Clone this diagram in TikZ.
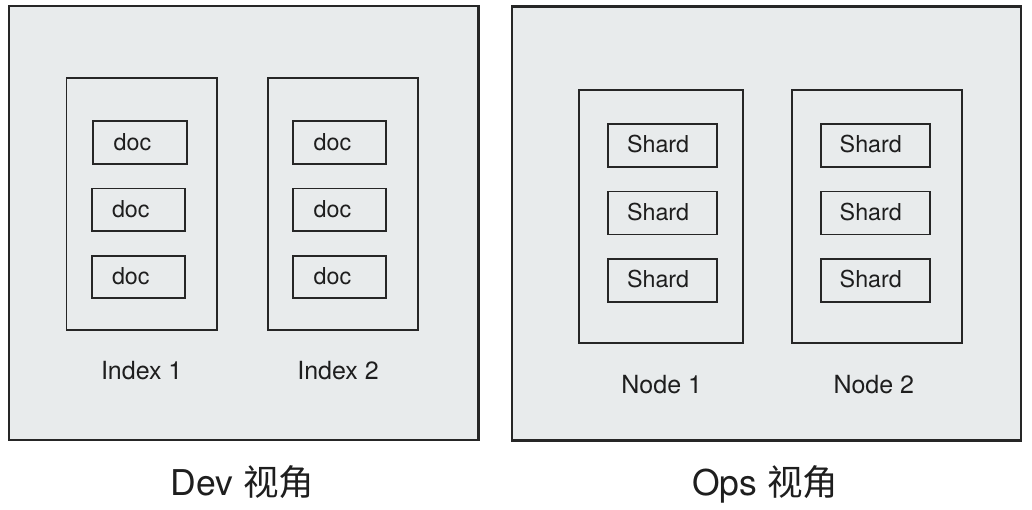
\documentclass[tikz,border=0pt]{standalone}
\usepackage{fontspec}
\setmainfont{TeX Gyre Heros}
\newfontfamily\cjkfont{Noto Sans CJK SC}
\definecolor{panelfill}{HTML}{E8EBEC}
\definecolor{edge}{HTML}{262626}
\definecolor{ink}{HTML}{1E1E1E}
\tikzset{
  outerbox/.style={draw=edge, line width=2.4pt, fill=panelfill, inner sep=0pt, minimum width=#1},
  groupbox/.style={draw=edge, line width=1.9pt, inner sep=0pt, minimum height=252pt},
  itembox/.style={draw=edge, line width=1.9pt, inner sep=0pt, minimum height=42.5pt},
  itemtxt/.style={text=ink, font=\fontsize{23.3}{27}\selectfont, anchor=base, inner sep=0pt},
  grouptxt/.style={text=ink, font=\fontsize{25}{29}\selectfont, anchor=base, inner sep=0pt},
  titletxt/.style={text=ink, font=\fontsize{35.5}{40}\selectfont, anchor=base, inner sep=0pt}
}
\begin{document}
\begin{tikzpicture}[x=1pt,y=-1pt]
\useasboundingbox (0,0) rectangle (1032,509);
\fill[white] (0,0) rectangle (1032,509);
% outer panels
\node[outerbox=469.5pt, minimum height=434pt] (dev) at (243.8,223.2) {};
\node[outerbox=509pt, minimum height=434pt] (ops) at (766.2,223.3) {};
% Dev side groups
\node[groupbox, minimum width=150.5pt] (idx1) at (141.7,203.6) {};
\node[groupbox, minimum width=150pt] (idx2) at (343.3,203.6) {};
% docs in index 1
\node[itembox, minimum width=93.4pt] (d11) at (140,142.5) {};
\node[itembox, minimum width=93.4pt] (d12) at (138.3,209.7) {};
\node[itembox, minimum width=93.4pt] (d13) at (138.3,276.8) {};
\node[itemtxt] (t11) at ([xshift=-7.5pt,yshift=-7.5pt]d11.center) {doc};
\node[itemtxt] (t12) at ([xshift=-7.5pt,yshift=-7.5pt]d12.center) {doc};
\node[itemtxt] (t13) at ([xshift=-7.5pt,yshift=-7.5pt]d13.center) {doc};
% docs in index 2
\node[itembox, minimum width=93pt] (d21) at (339.8,142.5) {};
\node[itembox, minimum width=93pt] (d22) at (339.8,209.7) {};
\node[itembox, minimum width=93pt] (d23) at (339.8,276.8) {};
\node[itemtxt] (t21) at ([xshift=-7.3pt,yshift=-7.5pt]d21.center) {doc};
\node[itemtxt] (t22) at ([xshift=-7.3pt,yshift=-7.5pt]d22.center) {doc};
\node[itemtxt] (t23) at ([xshift=-7.3pt,yshift=-7.5pt]d23.center) {doc};
\node[grouptxt] (l1) at (141.7,379) {Index 1};
\node[grouptxt] (l2) at (338,379) {Index 2};
% Ops side groups
\node[groupbox, minimum width=164pt, minimum height=252.4pt] (n1) at (661,216.5) {};
\node[groupbox, minimum width=169.4pt, minimum height=252.4pt] (n2) at (877,216.5) {};
\node[itembox, minimum width=109.3pt, minimum height=43pt] (s11) at (662.7,145.8) {};
\node[itembox, minimum width=109.3pt, minimum height=43pt] (s12) at (662.7,213) {};
\node[itembox, minimum width=109.3pt, minimum height=43pt] (s13) at (662.7,280.3) {};
\node[itembox, minimum width=109.6pt, minimum height=43pt] (s21) at (875.5,145.8) {};
\node[itembox, minimum width=109.6pt, minimum height=43pt] (s22) at (875.5,213) {};
\node[itembox, minimum width=109.6pt, minimum height=43pt] (s23) at (875.5,280.3) {};
\node[itemtxt] (u11) at ([xshift=-4.6pt,yshift=-7pt]s11.center) {Shard};
\node[itemtxt] (u12) at ([xshift=-4.6pt,yshift=-7pt]s12.center) {Shard};
\node[itemtxt] (u13) at ([xshift=-4.6pt,yshift=-7pt]s13.center) {Shard};
\node[itemtxt] (u21) at ([xshift=-4.7pt,yshift=-7pt]s21.center) {Shard};
\node[itemtxt] (u22) at ([xshift=-4.7pt,yshift=-7pt]s22.center) {Shard};
\node[itemtxt] (u23) at ([xshift=-4.7pt,yshift=-7pt]s23.center) {Shard};
\node[grouptxt] (m1) at (661.7,393.3) {Node 1};
\node[grouptxt] (m2) at (873.8,393.3) {Node 2};
% titles
\node[titletxt] (devt) at (242.5,495) {Dev {\cjkfont 视角}};
\node[titletxt] (opst) at (765,495) {Ops {\cjkfont 视角}};
\end{tikzpicture}
\end{document}
